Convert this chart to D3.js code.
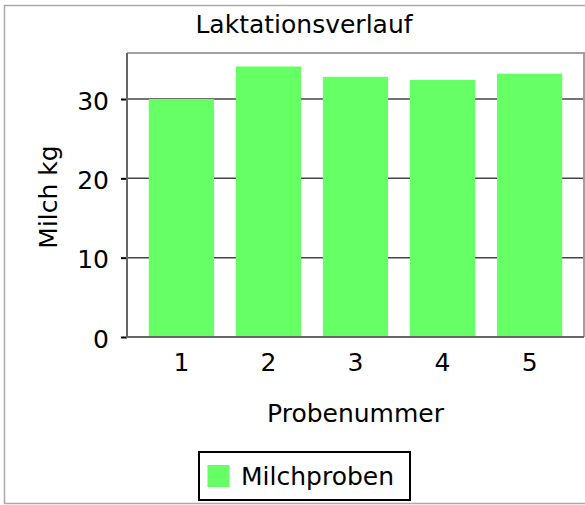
<!DOCTYPE html>
<html>
<head>
<meta charset="utf-8">
<script src="https://cdn.jsdelivr.net/npm/d3@7"></script>
<style>
  html, body { margin: 0; padding: 0; background: #fff; }
  svg text { font-family: "DejaVu Sans", sans-serif; font-size: 25px; fill: #000; }
</style>
</head>
<body>
<svg id="chart" width="585" height="505"></svg>
<script>
const title = "Laktationsverlauf";
const categories = ["1", "2", "3", "4", "5"];
const values = [30.0, 34.1, 32.8, 32.4, 33.2];
const yTicks = [0, 10, 20, 30];
const xLabel = "Probenummer";
const yLabel = "Milch kg";
const seriesName = "Milchproben";
const barColor = "#66ff66";

const svg = d3.select("#chart");
const plot = { left: 127, right: 584, top: 53, bottom: 337 };

// outer border
svg.append("rect").attr("x", 4.5).attr("y", 5.5).attr("width", 585).attr("height", 498)
  .attr("fill", "#fff").attr("stroke", "#aaaaaa").attr("stroke-width", 1.5);

const x = d3.scaleBand().domain(categories).range([plot.left, plot.right]).paddingInner(0.25).paddingOuter(0.25);
const y = d3.scaleLinear().domain([0, 35.8]).range([plot.bottom, plot.top]);

// plot background
svg.append("rect").attr("x", plot.left).attr("y", plot.top)
  .attr("width", plot.right - plot.left).attr("height", plot.bottom - plot.top).attr("fill", "#fff");

// grid lines
svg.append("g").selectAll("line").data(yTicks.filter(d => d > 0)).join("line")
  .attr("x1", plot.left).attr("x2", plot.right)
  .attr("y1", d => y(d)).attr("y2", d => y(d))
  .attr("stroke", "#444").attr("stroke-width", 1.5);

// top & right borders
svg.append("path")
  .attr("d", `M${plot.left},${plot.top}H${plot.right}V${plot.bottom}`)
  .attr("fill", "none").attr("stroke", "#a0a0a0").attr("stroke-width", 2);

// bars
svg.append("g").selectAll("rect").data(values).join("rect")
  .attr("x", (d, i) => x(categories[i]))
  .attr("width", x.bandwidth())
  .attr("y", d => y(d))
  .attr("height", d => y(0) - y(d))
  .attr("fill", barColor);

// y axis
const yAxis = d3.axisLeft(y).tickValues(yTicks).tickSize(6).tickPadding(12).tickFormat(d3.format("d"));
const gy = svg.append("g").attr("transform", `translate(${plot.left},0)`).call(yAxis);
gy.select(".domain").remove();
gy.selectAll(".tick line").attr("stroke", "#000").attr("stroke-width", 2);
gy.selectAll(".tick text").attr("dy", "0.4em").style("font-size", "25px").style("font-family", "DejaVu Sans");

// x axis
const xAxis = d3.axisBottom(x).tickSize(0).tickPadding(16);
const gx = svg.append("g").attr("transform", `translate(0,${plot.bottom})`).call(xAxis);
gx.select(".domain").remove();
gx.selectAll(".tick text").attr("dy", "0.71em").style("font-size", "25px").style("font-family", "DejaVu Sans");

// axis lines
svg.append("line").attr("x1", plot.left).attr("x2", plot.left).attr("y1", plot.top).attr("y2", plot.bottom + 1)
  .attr("stroke", "#666").attr("stroke-width", 2);
svg.append("line").attr("x1", plot.left).attr("x2", plot.right).attr("y1", plot.bottom).attr("y2", plot.bottom)
  .attr("stroke", "#666").attr("stroke-width", 2);

// title
svg.append("text").attr("x", 304).attr("y", 33).attr("text-anchor", "middle").text(title);

// x label
svg.append("text").attr("x", 355.5).attr("y", 422).attr("text-anchor", "middle").text(xLabel);

// y label
svg.append("text").attr("transform", "translate(57,197) rotate(-90)").attr("text-anchor", "middle").text(yLabel);

// legend
const lg = svg.append("g");
lg.append("rect").attr("x", 199).attr("y", 452).attr("width", 211).attr("height", 48)
  .attr("fill", "#fff").attr("stroke", "#000").attr("stroke-width", 2);
lg.append("rect").attr("x", 207.5).attr("y", 465).attr("width", 22).attr("height", 22).attr("fill", barColor);
lg.append("text").attr("x", 241).attr("y", 485).text(seriesName);
</script>
</body>
</html>
